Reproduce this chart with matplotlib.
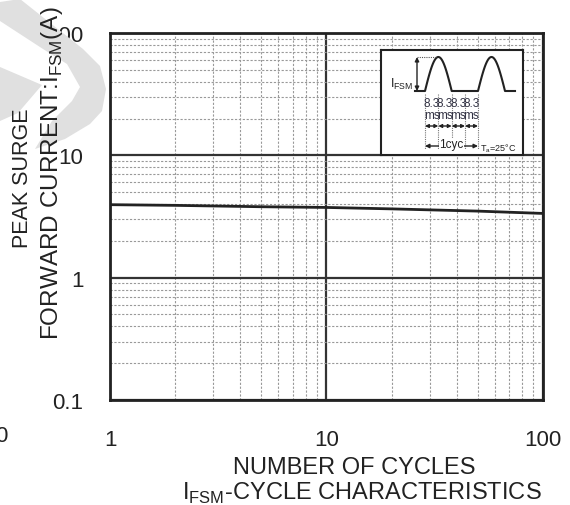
import numpy as np
import matplotlib
matplotlib.use("Agg")
import matplotlib.pyplot as plt
from matplotlib.patches import Polygon
from matplotlib.ticker import LogLocator, NullFormatter

plt.rcParams['font.family'] = ['Liberation Sans', 'DejaVu Sans']
plt.rcParams['mathtext.fontset'] = 'custom'
plt.rcParams['mathtext.rm'] = 'Liberation Sans'

# data
cycles = [1, 2, 5, 10, 20, 50, 100]
ifsm = [3.95, 3.9, 3.8, 3.75, 3.65, 3.5, 3.35]

x_ticks = [1, 10, 100]
x_labels = ['1', '10', '100']
y_ticks = [0.1, 1, 10, 100]
y_labels = ['0.1', '1', '10', '100']

W, H = 570, 506
fig = plt.figure(figsize=(W / 100, H / 100), dpi=100)

def fx(px):
    return px / W

def fy(py):
    return 1 - py / H

# grey watermark pieces in the top left corner
swoosh = [(0, 3), (20, 0), (83, 50), (100, 67), (106, 90), (102, 112), (90, 125),
          (65, 140), (35, 150), (52, 122), (72, 102), (80, 88), (67, 65),
          (43, 50), (0, 22)]
wedge = [(0, 68), (42, 86), (18, 114), (0, 122)]
for shape in (swoosh, wedge):
    fig.patches.append(Polygon([(fx(a), fy(b)) for a, b in shape], closed=True,
                               transform=fig.transFigure, facecolor='#e0e0e0',
                               edgecolor='none', zorder=0))

ax = fig.add_axes([fx(110), fy(401), fx(543) - fx(110), fy(34) - fy(401)])
ax.set_xscale('log')
ax.set_yscale('log')
ax.set_xlim(1, 100)
ax.set_ylim(0.1, 100)

ax.xaxis.set_minor_locator(LogLocator(base=10, subs=range(2, 10)))
ax.yaxis.set_minor_locator(LogLocator(base=10, subs=range(2, 10)))
ax.xaxis.set_minor_formatter(NullFormatter())
ax.yaxis.set_minor_formatter(NullFormatter())
ax.set_xticks(x_ticks)
ax.set_xticklabels(x_labels)
ax.set_yticks(y_ticks)
ax.set_yticklabels(y_labels)
ax.tick_params(which='both', length=0)
ax.tick_params(axis='x', pad=21, labelsize=16, labelcolor='#222')
ax.tick_params(axis='y', pad=19, labelsize=16, labelcolor='#222')

ax.grid(which='minor', color='#999999', lw=0.8, ls=(0, (2, 1.5)))
ax.grid(which='major', color='#333333', lw=1.6)
for s in ax.spines.values():
    s.set_linewidth(2)
    s.set_color('#222')

ax.plot(cycles, ifsm, color='#222', lw=2, zorder=5)

# inset with the surge waveform
ins = fig.add_axes([fx(381), fy(156), fx(523) - fx(381), fy(51) - fy(156)])
ins.set_xlim(381, 523)
ins.set_ylim(156, 51)
ins.set_xticks([])
ins.set_yticks([])
for s in ins.spines.values():
    s.set_linewidth(1.5)
    s.set_color('#222')

base, peak = 92, 58
t = np.linspace(0, 1, 60)
half = base - (base - peak) * np.sin(np.pi * t)
wx = np.concatenate([[415], 425 + 26.7 * t, [478], 478 + 27 * t, [515]])
wy = np.concatenate([[base], half, [base], half, [base]])
ins.plot(wx, wy, color='#222', lw=1.5)

ins.annotate('', xy=(417, peak), xytext=(417, base),
             arrowprops=dict(arrowstyle='<|-|>', color='#222', lw=1,
                             mutation_scale=6, shrinkA=0, shrinkB=0))
ins.plot([417, 437], [peak, peak], color='#555', lw=0.8, ls=(0, (1, 1)))
ins.text(390, 84, r'I$_{\mathrm{FSM}}$', fontsize=9, color='#222', va='center')

marks = [425, 438.3, 451.7, 465, 478]
for m in marks:
    ins.plot([m, m], [95, 150], color='#777', lw=0.8, ls=(0, (1, 1)))
for a, b in zip(marks[:-1], marks[1:]):
    c = (a + b) / 2
    ins.text(c, 104, '8.3', fontsize=8.5, ha='center', va='center', color='#334')
    ins.text(c, 116, 'ms', fontsize=8.5, ha='center', va='center', color='#334')
    ins.annotate('', xy=(a, 127), xytext=(b, 127),
                 arrowprops=dict(arrowstyle='<|-|>', color='#222', lw=1,
                                 mutation_scale=5, shrinkA=0, shrinkB=0))

ins.annotate('', xy=(425, 147), xytext=(478, 147),
             arrowprops=dict(arrowstyle='<|-|>', color='#222', lw=1,
                             mutation_scale=6, shrinkA=0, shrinkB=0))
ins.text(451.5, 145, '1cyc', fontsize=8.5, ha='center', va='center', color='#222',
         bbox=dict(facecolor='white', edgecolor='none', pad=0.3))
ins.text(480, 149, r'T$_{\mathrm{a}}$=25°C', fontsize=6.5, ha='left', va='center',
         color='#222')

# axis titles
fig.text(fx(23), fy(178), 'PEAK SURGE', rotation=90, ha='center', va='center',
         fontsize=15.5, color='#222')
fig.text(fx(52), fy(173), r'FORWARD CURRENT:I$_{\mathrm{FSM}}$(A)', rotation=90,
         ha='center', va='center', fontsize=17.5, color='#222')
fig.text(fx(354), fy(468), 'NUMBER OF CYCLES', ha='center', va='center',
         fontsize=17, color='#222')
fig.text(fx(362), fy(493), r'I$_{\mathrm{FSM}}$-CYCLE CHARACTERISTICS', ha='center',
         va='center', fontsize=17, color='#222')
fig.text(fx(1), fy(437), '0', ha='center', va='center', fontsize=16, color='#222')

fig.savefig('out.png', dpi=100)
